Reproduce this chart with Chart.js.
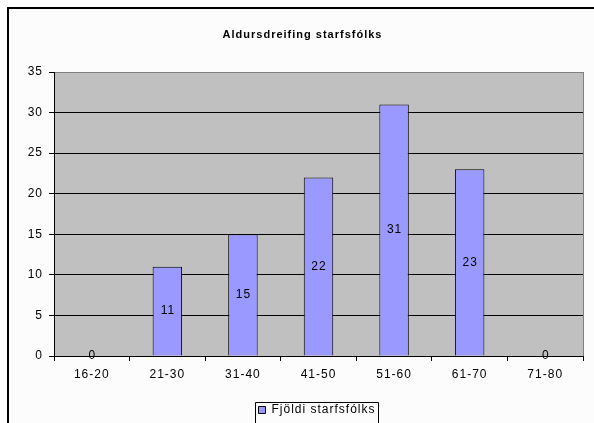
<!DOCTYPE html>
<html>
<head>
<meta charset="utf-8">
<script src="https://cdn.jsdelivr.net/npm/chart.js@4"></script>
<style>
  html, body { margin: 0; padding: 0; background: #fff; }
  #wrap { width: 594px; height: 423px; }
</style>
</head>
<body>
<div id="wrap"><canvas id="chart" width="594" height="423"></canvas></div>
<script>
// Chart data
const categories = ["16-20", "21-30", "31-40", "41-50", "51-60", "61-70", "71-80"];
const staffCount = [0, 11, 15, 22, 31, 23, 0];
const yTicks = [0, 5, 10, 15, 20, 25, 30, 35];
const chartTitle = "Aldursdreifing starfsfólks";
const seriesName = "Fjöldi starfsfólks";

const FONT = "Arial, 'Liberation Sans', sans-serif";

// the old Excel text is set wider than canvas Arial
const spacing = {
  id: "spacing",
  beforeUpdate(chart) { chart.ctx.letterSpacing = "1px"; },
  beforeDraw(chart) { chart.ctx.letterSpacing = "1px"; }
};

// Frame, plot background and right plot border
const backdrop = {
  id: "backdrop",
  beforeDraw(chart) {
    const { ctx, chartArea: a } = chart;
    ctx.save();
    ctx.fillStyle = "#fff";
    ctx.fillRect(0, 0, chart.width, chart.height);
    ctx.fillStyle = "#fcfcfc";
    ctx.fillRect(8, 8, chart.width, chart.height);
    ctx.strokeStyle = "#000";
    ctx.lineWidth = 2;
    ctx.beginPath();
    ctx.moveTo(8, chart.height + 2);
    ctx.lineTo(8, 8);
    ctx.lineTo(chart.width + 2, 8);
    ctx.stroke();
    ctx.fillStyle = "#c0c0c0";
    ctx.fillRect(a.left, a.top, a.right - a.left, a.bottom - a.top);
    ctx.strokeStyle = "#808080";
    ctx.lineWidth = 1;
    ctx.beginPath();
    ctx.moveTo(Math.round(a.right) + 0.5, a.top);
    ctx.lineTo(Math.round(a.right) + 0.5, a.bottom);
    ctx.stroke();
    ctx.restore();
  }
};

// Move the legend a little right/down, like the original
const legendShift = {
  id: "legendShift",
  afterLayout(chart) {
    const l = chart.legend;
    const dx = 14.5, dy = 3;
    l.left += dx; l.right += dx;
    l.top += dy; l.bottom += dy;
    l.legendHitBoxes.forEach(h => { h.left += dx; h.top += dy; });
  },
  afterDraw(chart) {
    const l = chart.legend;
    const h = l.legendHitBoxes[0];
    if (!h) return;
    const { ctx } = chart;
    ctx.save();
    ctx.strokeStyle = "#000";
    ctx.lineWidth = 1;
    const x0 = Math.round(h.left - 3) + 0.5;
    const x1 = Math.round(h.left + h.width + 2) + 0.5;
    const y0 = Math.round(h.top - 5) + 0.5;
    ctx.beginPath();
    ctx.moveTo(x0, chart.height + 2);
    ctx.lineTo(x0, y0);
    ctx.lineTo(x1, y0);
    ctx.lineTo(x1, chart.height + 2);
    ctx.stroke();
    ctx.restore();
  }
};

// Value labels in the middle of each bar
const valueLabels = {
  id: "valueLabels",
  afterDatasetsDraw(chart) {
    const { ctx } = chart;
    const meta = chart.getDatasetMeta(0);
    ctx.save();
    ctx.font = "12px " + FONT;
    ctx.fillStyle = "#000";
    ctx.textAlign = "center";
    ctx.textBaseline = "middle";
    meta.data.forEach((bar, i) => {
      const p = bar.getProps(["x", "y", "base"], true);
      ctx.fillText(String(staffCount[i]), p.x + 0.5, (p.y + p.base) / 2);
    });
    ctx.restore();
  }
};

new Chart(document.getElementById("chart"), {
  type: "bar",
  data: {
    labels: categories,
    datasets: [{
      label: seriesName,
      data: staffCount,
      backgroundColor: "#9999ff",
      borderColor: "#000",
      borderWidth: 1,
      categoryPercentage: 1,
      barPercentage: 0.39
    }]
  },
  options: {
    responsive: false,
    animation: false,
    devicePixelRatio: 1,
    layout: { padding: { left: 22, right: 11, top: 0, bottom: 0 } },
    plugins: {
      title: {
        display: true,
        text: chartTitle,
        color: "#000",
        font: { family: FONT, size: 11, weight: "bold", lineHeight: 1 },
        padding: { top: 29, bottom: 32 }
      },
      legend: {
        position: "bottom",
        labels: {
          color: "#000",
          font: { family: FONT, size: 12 },
          boxWidth: 7,
          boxHeight: 7,
          padding: 10,
          generateLabels(chart) {
            return [{
              text: seriesName,
              fillStyle: "#9999ff",
              strokeStyle: "#000",
              lineWidth: 1,
              datasetIndex: 0
            }];
          }
        }
      },
      tooltip: { enabled: false }
    },
    scales: {
      x: {
        afterFit(s) { s.height = 35; },
        grid: {
          display: true,
          drawOnChartArea: false,
          drawTicks: true,
          tickLength: 5,
          color: "#000",
          offset: true
        },
        border: { display: true, color: "#000" },
        ticks: {
          color: "#000",
          font: { family: FONT, size: 12 },
          padding: 6,
          maxRotation: 0
        }
      },
      y: {
        min: 0,
        max: 35,
        afterFit(s) { s.width = 32; },
        afterBuildTicks(s) { s.ticks = yTicks.map(v => ({ value: v })); },
        grid: {
          color: c => (c.tick && c.tick.value === 35 ? "#808080" : "#000"),
          tickColor: "#000",
          tickLength: 5
        },
        border: { display: true, color: "#000" },
        ticks: {
          color: "#000",
          font: { family: FONT, size: 12 },
          padding: 6,
          stepSize: 5
        }
      }
    }
  },
  plugins: [spacing, backdrop, legendShift, valueLabels]
});
</script>
</body>
</html>
